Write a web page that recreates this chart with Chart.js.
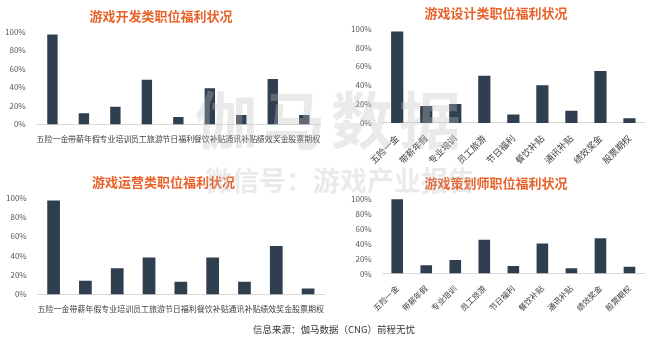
<!DOCTYPE html>
<html>
<head>
<meta charset="utf-8">
<script src="https://cdn.jsdelivr.net/npm/chart.js@4"></script>
<style>
  body { margin: 0; background: #fff; font-family: "Noto Sans CJK SC", sans-serif; }
  #wrap { position: relative; width: 668px; height: 345px; overflow: hidden; }
  .box { position: absolute; }
  #source { position: absolute; left: 0; width: 668px; top: 322px; text-align: center; font-size: 9.5px; color: #333; }
  .wm { position: absolute; color: rgba(190,190,190,0.33); font-weight: bold; white-space: nowrap; pointer-events: none; }
</style>
</head>
<body>
<div id="wrap">
  <div class="box" style="left:0;top:0;width:334px;height:160px"><canvas id="c1"></canvas></div>
  <div class="box" style="left:334px;top:0;width:334px;height:168px"><canvas id="c2"></canvas></div>
  <div class="box" style="left:0;top:160px;width:334px;height:160px"><canvas id="c3"></canvas></div>
  <div class="box" style="left:334px;top:160px;width:334px;height:165px"><canvas id="c4"></canvas></div>
  <div class="wm" style="left:195px;top:72px;font-size:62px;letter-spacing:6px">伽马数据</div>
  <div class="wm" style="left:205px;top:160px;font-size:27px">微信号：游戏产业报告</div>
  <div id="source">信息来源：伽马数据（CNG）前程无忧</div>
</div>
<script>
// categories
const benefits = ['五险一金', '带薪年假', '专业培训', '员工旅游', '节日福利', '餐饮补贴', '通讯补贴', '绩效奖金', '股票期权'];

// percentage values per job type
const devValues = [97, 12, 19, 48, 8, 39, 10, 49, 10];
const designValues = [97, 18, 20, 50, 9, 40, 13, 55, 5];
const opsValues = [97, 14, 27, 38, 13, 38, 13, 50, 6];
const planValues = [99, 11, 18, 45, 10, 40, 7, 47, 9];

const titles = ['游戏开发类职位福利状况', '游戏设计类职位福利状况', '游戏运营类职位福利状况', '游戏策划师职位福利状况'];
const yTicks = [0, 20, 40, 60, 80, 100];

const barColor = '#2f3f50';

function makeChart(id, title, values, rotated, labelSize, barPct, pad) {
    new Chart(document.getElementById(id), {
        type: 'bar',
        data: {
            labels: benefits,
            datasets: [{
                data: values,
                backgroundColor: barColor,
                barPercentage: barPct,
                categoryPercentage: 1.0,
            }],
        },
        options: {
            responsive: true,
            maintainAspectRatio: false,
            animation: false,
            layout: { padding: pad },
            plugins: {
                legend: { display: false },
                tooltip: { enabled: false },
                title: {
                    display: true,
                    text: title,
                    color: '#e8632b',
                    font: { size: 13, weight: 'bold', family: 'Noto Sans CJK SC' },
                    padding: { top: 2, bottom: 8 },
                },
            },
            scales: {
                y: {
                    min: 0,
                    max: 100,
                    afterBuildTicks: (axis) => { axis.ticks = yTicks.map(v => ({ value: v })); },
                    ticks: {
                        callback: (v) => v + '%',
                        color: '#595959',
                        font: { size: 8, family: 'Noto Sans CJK SC' },
                        padding: 3,
                    },
                    grid: { display: false },
                    border: { display: false },
                },
                x: {
                    grid: { display: false },
                    border: { display: true, color: '#d9d9d9' },
                    ticks: {
                        autoSkip: false,
                        minRotation: rotated ? 45 : 0,
                        maxRotation: rotated ? 45 : 0,
                        color: '#404040',
                        font: { size: labelSize, family: 'Noto Sans CJK SC' },
                        padding: 2,
                    },
                },
            },
        },
    });
}

makeChart('c1', titles[0], devValues, false, 8, 0.33, { left: 2, right: 14, top: 6, bottom: 14 });
makeChart('c2', titles[1], designValues, true, 9, 0.42, { left: 14, right: 24, top: 3, bottom: 0 });
makeChart('c3', titles[2], opsValues, false, 8, 0.4, { left: 3, right: 10, top: 12, bottom: 4 });
makeChart('c4', titles[3], planValues, true, 8, 0.4, { left: 14, right: 24, top: 13, bottom: 10 });
</script>
</body>
</html>
